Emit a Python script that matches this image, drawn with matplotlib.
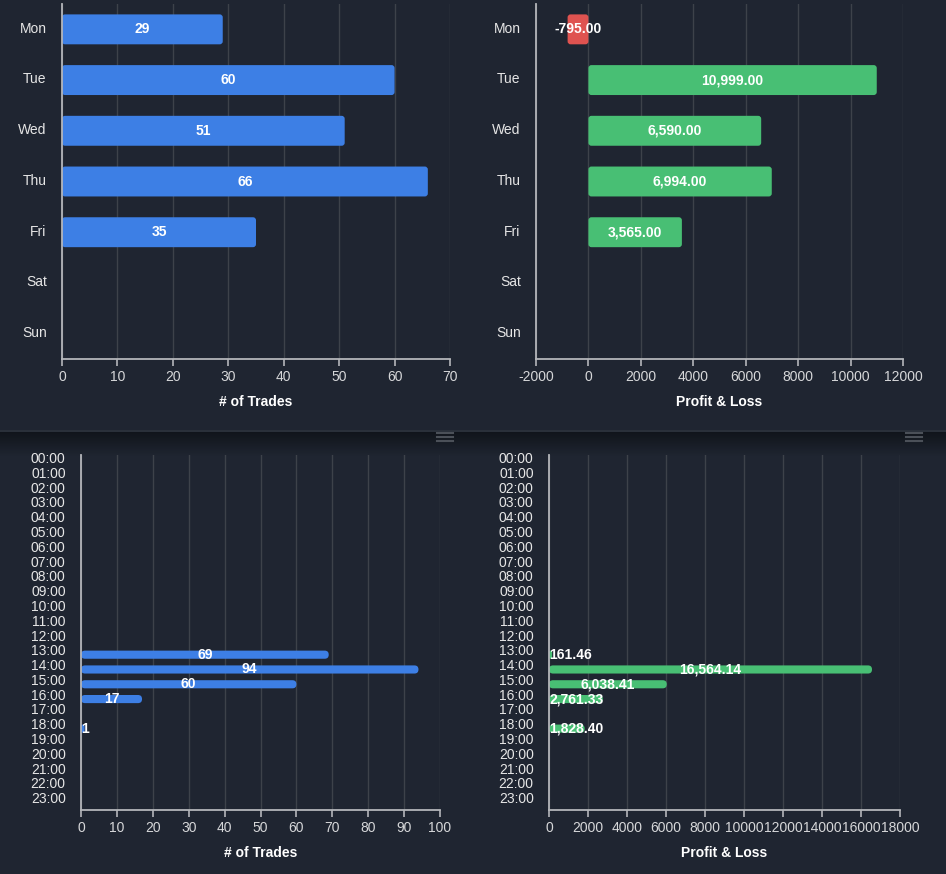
import numpy as np
import matplotlib
matplotlib.use('Agg')
import matplotlib.pyplot as plt
from matplotlib.patches import FancyBboxPatch
from matplotlib.lines import Line2D
from matplotlib.colors import LinearSegmentedColormap
import matplotlib.transforms as mtransforms

plt.rcParams['font.family'] = ['Liberation Sans', 'DejaVu Sans']
plt.rcParams['axes.unicode_minus'] = False

# data
days = ['Mon', 'Tue', 'Wed', 'Thu', 'Fri', 'Sat', 'Sun']
day_trades = [29, 60, 51, 66, 35, 0, 0]
day_pnl = [-795.00, 10999.00, 6590.00, 6994.00, 3565.00, 0, 0]

hours = ['00:00', '01:00', '02:00', '03:00', '04:00', '05:00', '06:00', '07:00',
         '08:00', '09:00', '10:00', '11:00', '12:00', '13:00', '14:00', '15:00',
         '16:00', '17:00', '18:00', '19:00', '20:00', '21:00', '22:00', '23:00']
hour_trades = [0, 0, 0, 0, 0, 0, 0, 0, 0, 0, 0, 0, 0,
               69, 94, 60, 17, 0, 1, 0, 0, 0, 0, 0]
hour_pnl = [0, 0, 0, 0, 0, 0, 0, 0, 0, 0, 0, 0, 0,
            161.46, 16564.14, 6038.41, 2761.33, 0, 1828.40, 0, 0, 0, 0, 0]

BG = '#1f2531'
GRID = '#3d424a'
AXLINE = '#b4b6ba'
TICKC = '#d6d7d9'
BLUE = '#3d7fe5'
GREEN = '#48bf74'
RED = '#df5350'

W, H = 946, 874
fig = plt.figure(figsize=(W / 100, H / 100), dpi=100, facecolor=BG)

# dark strip between the two rows
band = fig.add_axes([0, 1 - 456 / H, 1, 24 / H], zorder=0)
cmap = LinearSegmentedColormap.from_list('band', ['#10141a', BG])
band.imshow(np.linspace(0, 1, 100).reshape(-1, 1), aspect='auto', cmap=cmap,
            extent=[0, 1, 0, 1])
band.axis('off')
fig.add_artist(Line2D([0, 1], [1 - 431 / H] * 2, color='#2d333d', lw=1.2))
for x0 in [437, 906]:
    for yy in [432.5, 436.5, 441]:
        fig.add_artist(Line2D([x0 / W, (x0 + 16) / W], [1 - yy / H] * 2,
                              color='#4b5058', lw=1.5))


def px_box(l, t, r, b):
    return [l / W, 1 - b / H, (r - l) / W, (b - t) / H]


def style(ax, xlim, xstep, cats, title, label_shift):
    ax.set_facecolor('none')
    ax.set_xlim(*xlim)
    ax.set_xticks(np.arange(xlim[0], xlim[1] + xstep / 2, xstep))
    ax.set_ylim(len(cats) - 0.5, -0.5)
    ax.set_yticks(range(len(cats)))
    ax.set_yticklabels(cats)
    for s in ['top', 'right']:
        ax.spines[s].set_visible(False)
    for s in ['left', 'bottom']:
        ax.spines[s].set_color(AXLINE)
        ax.spines[s].set_linewidth(1.3)
        ax.spines[s].set_zorder(5)
    ax.grid(axis='x', color=GRID, lw=1)
    ax.set_axisbelow(True)
    ax.tick_params(axis='x', colors=AXLINE, labelcolor=TICKC, length=5, width=1.2,
                   labelsize=10, pad=3)
    ax.tick_params(axis='y', length=0, labelcolor='#e6e6e6', labelsize=10, pad=11)
    off = mtransforms.ScaledTranslation(0, label_shift / 72, fig.dpi_scale_trans)
    for lbl in ax.get_yticklabels():
        lbl.set_transform(lbl.get_transform() + off)
    ax.set_xlabel(title, color='white', fontsize=10, fontweight='bold', labelpad=8)


def round_bars(ax, bars, r_px):
    bb = ax.get_window_extent()
    x0, x1 = ax.get_xlim()
    y1, y0 = ax.get_ylim()
    xpp = (x1 - x0) / bb.width
    ypp = abs(y1 - y0) / bb.height
    for p in bars:
        x, y, w, h = p.get_x(), p.get_y(), p.get_width(), p.get_height()
        if w < 0:
            x, w = x + w, -w
        if w == 0:
            p.remove()
            continue
        r = min(r_px, w / xpp / 2, h / ypp / 2) * xpp
        fb = FancyBboxPatch((x, y), w, h, boxstyle=f'round,pad=0,rounding_size={r}',
                            mutation_aspect=ypp / xpp, fc=p.get_facecolor(),
                            ec='none', zorder=3)
        p.remove()
        ax.add_patch(fb)


def add_labels(ax, vals, fmt, size):
    texts = []
    for i, v in enumerate(vals):
        if v == 0:
            continue
        t = ax.text(v / 2, i, fmt(v), ha='center', va='center', color='white',
                    fontsize=size, fontweight='bold', zorder=6)
        texts.append(t)
    return texts


# top left: trades by weekday
ax1 = fig.add_axes(px_box(62, 4, 450, 359))
style(ax1, (0, 70), 10, days, '# of Trades', 1.5)
b = ax1.barh(range(len(days)), day_trades, height=0.59, color=BLUE)
round_bars(ax1, b, 3)
t1 = add_labels(ax1, day_trades, lambda v: f'{v:d}', 10)

# top right: P&L by weekday
ax2 = fig.add_axes(px_box(536, 4, 903, 359))
style(ax2, (-2000, 12000), 2000, days, 'Profit & Loss', 1.5)
b = ax2.barh(range(len(days)), day_pnl, height=0.59,
             color=[RED if v < 0 else GREEN for v in day_pnl])
round_bars(ax2, b, 3)
t2 = add_labels(ax2, day_pnl, lambda v: f'{v:,.2f}', 10)

# bottom left: trades by hour
ax3 = fig.add_axes(px_box(81, 455, 440, 810))
style(ax3, (0, 100), 10, hours, '# of Trades', 3.5)
b = ax3.barh(range(len(hours)), hour_trades, height=0.55, color=BLUE)
round_bars(ax3, b, 4)
t3 = add_labels(ax3, hour_trades, lambda v: f'{v:d}', 10)

# bottom right: P&L by hour
ax4 = fig.add_axes(px_box(549, 455, 900, 810))
style(ax4, (0, 18000), 2000, hours, 'Profit & Loss', 3.5)
b = ax4.barh(range(len(hours)), hour_pnl, height=0.55, color=GREEN)
round_bars(ax4, b, 4)
t4 = add_labels(ax4, hour_pnl, lambda v: f'{v:,.2f}', 10)

# keep value labels inside the plot area
fig.canvas.draw()
rend = fig.canvas.get_renderer()
for ax, texts in [(ax1, t1), (ax2, t2), (ax3, t3), (ax4, t4)]:
    for t in texts:
        if t.get_window_extent(rend).x0 < ax.bbox.x0:
            t.set_ha('left')
            t.set_x(ax.get_xlim()[0])

fig.savefig('out.png', dpi=100, facecolor=BG)
